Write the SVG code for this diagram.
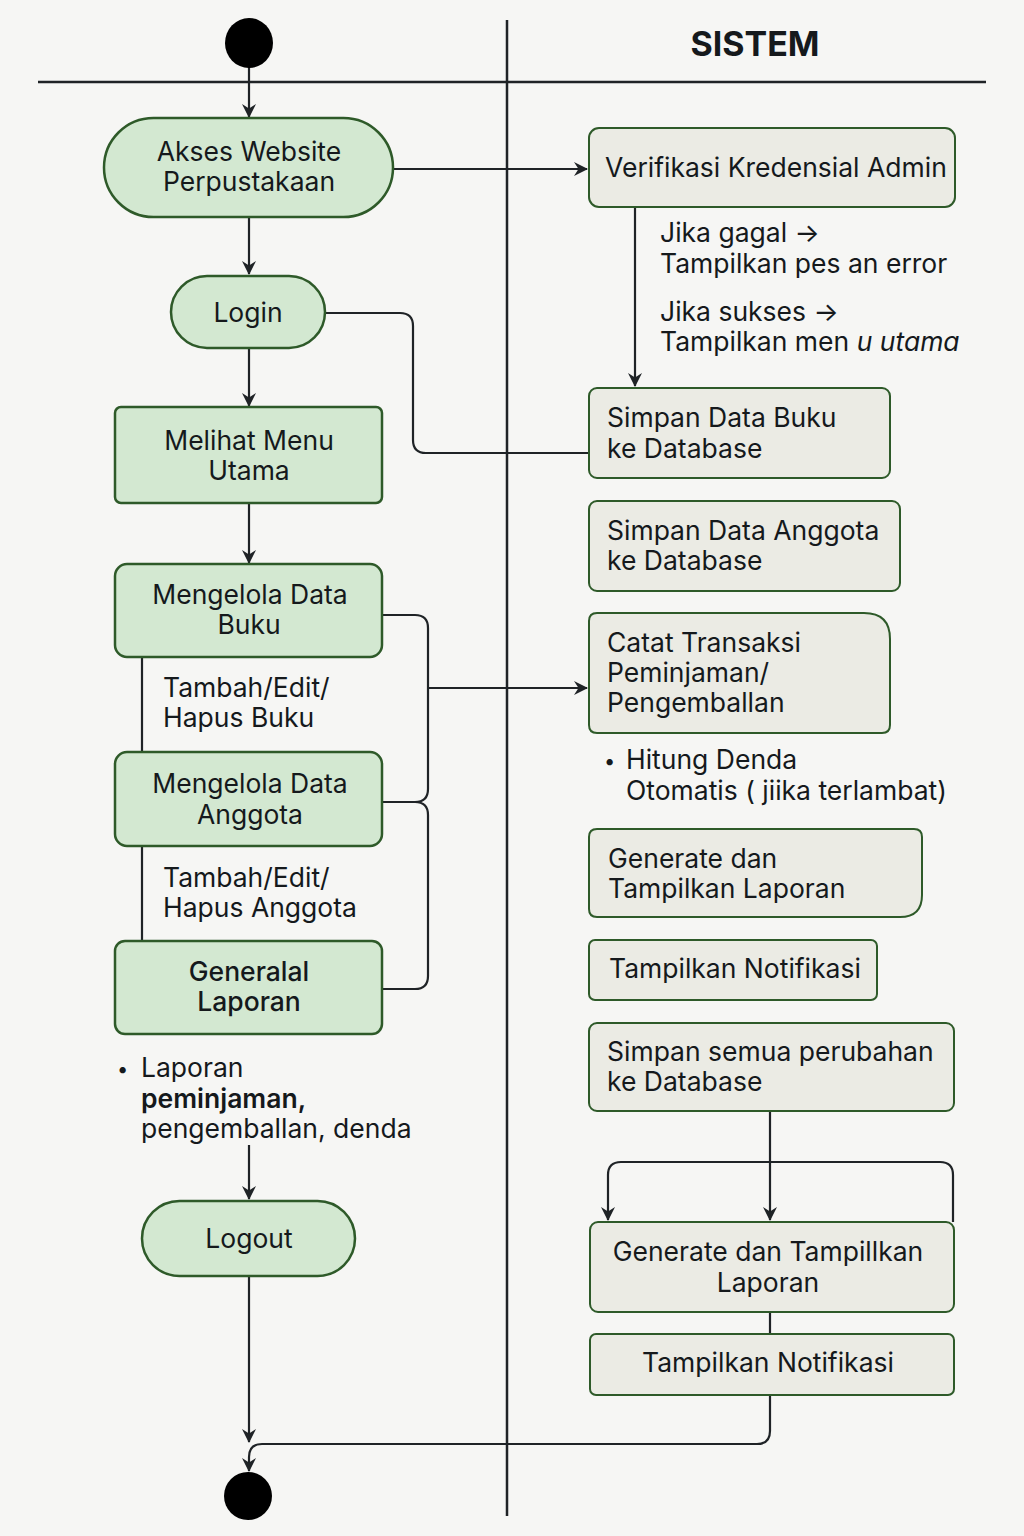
<svg xmlns="http://www.w3.org/2000/svg" width="1024" height="1536" viewBox="0 0 1024 1536">
<defs>
<marker id="arr" viewBox="0 0 14 14" refX="13" refY="7" markerWidth="14" markerHeight="14" markerUnits="userSpaceOnUse" orient="auto">
<path d="M0,0 L14,7 L0,14 L4.5,7 Z" fill="#1f2326"/>
</marker>
</defs>
<style>
text{font-family:Inter,"Liberation Sans",sans-serif;font-size:26.5px;fill:#15191c}
.c{text-anchor:middle}
.act{fill:#d3e8d1;stroke:#2e5a29;stroke-width:2.5}
.sys{fill:#ebebe4;stroke:#2e5a29;stroke-width:2}
.ln{fill:none;stroke:#1f2326;stroke-width:2.2}
.a{marker-end:url(#arr)}
.b{font-weight:700}
</style>
<rect width="1024" height="1536" fill="#f6f6f4"/>
<g id="lanes">
<line x1="38" y1="82" x2="986" y2="82" stroke="#1f2326" stroke-width="2.5"/>
<line x1="507" y1="20" x2="507" y2="1516" stroke="#1f2326" stroke-width="2.5"/>
<text x="755" y="56" class="c b" style="font-size:34px">SISTEM</text>
</g>
<g id="connectors">
<line class="ln a" x1="249" y1="66" x2="249" y2="117"/>
<line class="ln a" x1="393" y1="169" x2="587" y2="169"/>
<line class="ln a" x1="249" y1="217" x2="249" y2="274"/>
<line class="ln a" x1="249" y1="348" x2="249" y2="406"/>
<path class="ln" d="M325,313 H400 Q413,313 413,326 V440 Q413,453 426,453 H589"/>
<line class="ln a" x1="249" y1="503" x2="249" y2="563"/>
<path class="ln" d="M382,615 H415 Q428,615 428,628 V789 Q428,802 415,802 H382"/>
<path class="ln" d="M382,802 H415 Q428,802 428,815 V976 Q428,989 415,989 H382"/>
<line class="ln a" x1="428" y1="688" x2="587" y2="688"/>
<line class="ln" x1="142" y1="657" x2="142" y2="752"/>
<line class="ln" x1="142" y1="846" x2="142" y2="941"/>
<line class="ln a" x1="635" y1="207" x2="635" y2="386"/>
<line class="ln a" x1="249" y1="1145" x2="249" y2="1199"/>
<line class="ln a" x1="249" y1="1276" x2="249" y2="1442"/>
<line class="ln a" x1="770" y1="1111" x2="770" y2="1220"/>
<path class="ln a" d="M953,1222 V1175 Q953,1162 940,1162 H621 Q608,1162 608,1175 V1220"/>
<line class="ln" x1="770" y1="1312" x2="770" y2="1334"/>
<path class="ln a" d="M770,1395 V1431 Q770,1444 757,1444 H262 Q249,1444 249,1457 V1471"/>
</g>
<g id="start"><ellipse cx="249" cy="43" rx="24" ry="25" fill="#000"/></g>
<g id="end"><circle cx="248" cy="1496" r="24" fill="#000"/></g>
<g id="akses">
<rect class="act" x="104" y="118" width="289" height="99" rx="49.5"/>
<text class="c" x="249" y="161">Akses Website</text>
<text class="c" x="249" y="191">Perpustakaan</text>
</g>
<g id="login">
<rect class="act" x="171" y="276" width="154" height="72" rx="36"/>
<text class="c" x="248" y="322">Login</text>
</g>
<g id="menu">
<rect class="act" x="115" y="407" width="267" height="96" rx="6"/>
<text class="c" x="249" y="450">Melihat Menu</text>
<text class="c" x="249" y="480">Utama</text>
</g>
<g id="buku">
<rect class="act" x="115" y="564" width="267" height="93" rx="12"/>
<text class="c" x="250" y="604">Mengelola Data</text>
<text class="c" x="249" y="634">Buku</text>
</g>
<g id="note-buku">
<text x="163" y="697">Tambah/Edit/</text>
<text x="163" y="727">Hapus Buku</text>
</g>
<g id="anggota">
<rect class="act" x="115" y="752" width="267" height="94" rx="12"/>
<text class="c" x="250" y="793">Mengelola Data</text>
<text class="c" x="250" y="824">Anggota</text>
</g>
<g id="note-anggota">
<text x="163" y="887">Tambah/Edit/</text>
<text x="163" y="917">Hapus Anggota</text>
</g>
<g id="generalal">
<rect class="act" x="115" y="941" width="267" height="93" rx="10"/>
<text class="c" x="249" y="981" style="font-weight:500">Generalal</text>
<text class="c" x="249" y="1011" style="font-weight:500">Laporan</text>
</g>
<g id="note-laporan">
<text x="117" y="1076" style="font-size:20px">•</text>
<text x="141" y="1077">Laporan</text>
<text x="141" y="1108" style="font-weight:600">peminjaman,</text>
<text x="141" y="1138">pengemballan, denda</text>
</g>
<g id="logout">
<rect class="act" x="142" y="1201" width="213" height="75" rx="37.5"/>
<text class="c" x="249" y="1248">Logout</text>
</g>
<g id="verifikasi">
<rect class="sys" x="589" y="128" width="366" height="79" rx="10"/>
<text x="605" y="177">Verifikasi Kredensial Admin</text>
</g>
<g id="note-verifikasi">
<text x="660" y="242">Jika gagal →</text>
<text x="660" y="273">Tampilkan pes an error</text>
<text x="660" y="321">Jika sukses →</text>
<text x="660" y="351">Tampilkan men <tspan font-style="italic">u utama</tspan></text>
</g>
<g id="simpan-buku">
<rect class="sys" x="589" y="388" width="301" height="90" rx="8"/>
<text x="607" y="427">Simpan Data Buku</text>
<text x="607" y="458">ke Database</text>
</g>
<g id="simpan-anggota">
<rect class="sys" x="589" y="501" width="311" height="90" rx="8"/>
<text x="607" y="540">Simpan Data Anggota</text>
<text x="607" y="570">ke Database</text>
</g>
<g id="catat">
<path class="sys" d="M597,613 H864 Q890,613 890,639 V725 Q890,733 882,733 H597 Q589,733 589,725 V621 Q589,613 597,613 Z"/>
<text x="607" y="652">Catat Transaksi</text>
<text x="607" y="682">Peminjaman/</text>
<text x="607" y="712">Pengemballan</text>
</g>
<g id="note-denda">
<text x="604" y="768" style="font-size:20px">•</text>
<text x="626" y="769">Hitung Denda</text>
<text x="626" y="800">Otomatis ( jiika  terlambat)</text>
</g>
<g id="generate1">
<path class="sys" d="M597,829 H914 Q922,829 922,837 V895 Q922,917 900,917 H597 Q589,917 589,909 V837 Q589,829 597,829 Z"/>
<text x="608" y="868">Generate dan</text>
<text x="608" y="898">Tampilkan Laporan</text>
</g>
<g id="notif1">
<rect class="sys" x="589" y="940" width="288" height="60" rx="6"/>
<text x="609" y="978">Tampilkan Notifikasi</text>
</g>
<g id="simpan-semua">
<rect class="sys" x="589" y="1023" width="365" height="88" rx="8"/>
<text x="607" y="1061">Simpan semua perubahan</text>
<text x="607" y="1091">ke Database</text>
</g>
<g id="generate2">
<rect class="sys" x="590" y="1222" width="364" height="90" rx="8"/>
<text class="c" x="768" y="1261">Generate dan Tampillkan</text>
<text class="c" x="768" y="1292">Laporan</text>
</g>
<g id="notif2">
<rect class="sys" x="590" y="1334" width="364" height="61" rx="6"/>
<text class="c" x="768" y="1372">Tampilkan Notifikasi</text>
</g>
</svg>
